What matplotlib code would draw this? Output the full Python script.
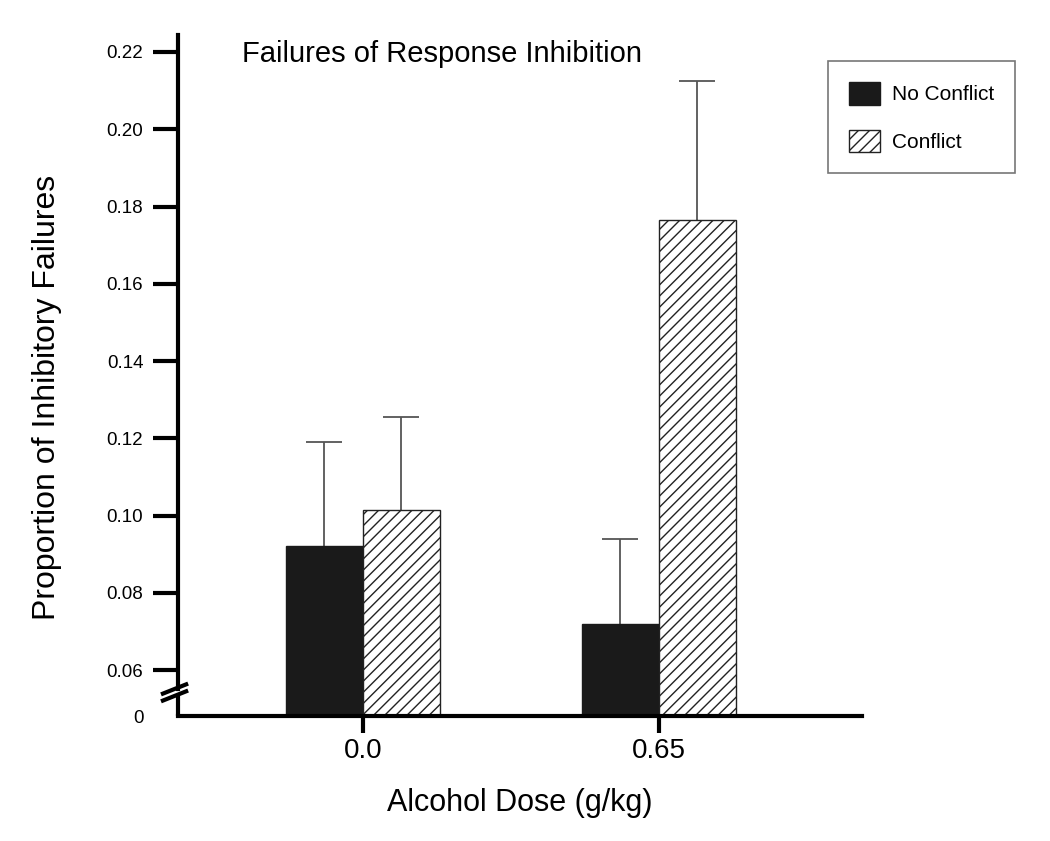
import matplotlib.pyplot as plt
import numpy as np

plt.rcParams['font.family'] = ['Liberation Sans', 'DejaVu Sans']
plt.rcParams['hatch.linewidth'] = 1.0

doses = ['0.0', '0.65']
no_conflict = [0.092, 0.072]
no_conflict_err = [0.027, 0.022]
conflict = [0.1015, 0.1765]
conflict_err = [0.024, 0.036]

y_ticks = [0.06, 0.08, 0.10, 0.12, 0.14, 0.16, 0.18, 0.20, 0.22]
floor = 0.0481  # where "0" sits below the axis break

fig = plt.figure(figsize=(10.5, 8.41), dpi=100)
ax = fig.add_axes([0.1695, 0.1486, 0.6514, 0.8098])

x = np.arange(len(doses))
w = 0.26
ax.bar(x - w / 2, np.array(no_conflict) - floor, w, bottom=floor,
       color='#1a1a1a', edgecolor='#1a1a1a', label='No Conflict', zorder=2)
ax.bar(x + w / 2, np.array(conflict) - floor, w, bottom=floor,
       color='white', edgecolor='#222222', linewidth=1.0, hatch='///',
       label='Conflict', zorder=2)
for xs, ys, es in [(x - w / 2, no_conflict, no_conflict_err),
                   (x + w / 2, conflict, conflict_err)]:
    eb = ax.errorbar(xs, ys, yerr=[np.zeros(2), es], fmt='none',
                     ecolor='#555555', elinewidth=1.3, capsize=13,
                     capthick=1.3, zorder=1)
    eb[1][0].set_visible(False)  # only the upper cap

ax.set_xlim(-0.625, 1.686)
ax.set_ylim(floor, 0.2244)

ax.set_yticks([floor] + y_ticks)
ax.set_yticklabels(['0'] + ['%.2f' % v for v in y_ticks], fontsize=13.5)
ax.yaxis.get_major_ticks()[0].tick1line.set_visible(False)
ax.tick_params(axis='y', direction='out', length=18, width=3, pad=7)
ax.set_xticks(x)
ax.set_xticklabels(doses, fontsize=20)
ax.tick_params(axis='x', direction='out', length=12, width=3, pad=4)

for s in ['top', 'right']:
    ax.spines[s].set_visible(False)
ax.spines['bottom'].set_linewidth(3)
ax.spines['left'].set_linewidth(3)
ax.spines['left'].set_bounds(0.0552, 0.2244)

# lower piece of the broken axis and the break marks
trans = ax.get_yaxis_transform()
ax.plot([0, 0], [floor, 0.0532], color='black', lw=3, transform=trans,
        clip_on=False, solid_capstyle='butt')
for yb in [0.0533, 0.0551]:
    ax.plot([-0.022, 0.012], [yb - 0.0012, yb + 0.0012], color='black',
            lw=3, transform=trans, clip_on=False)

ax.set_xlabel('Alcohol Dose (g/kg)', fontsize=22, labelpad=17)
ax.set_ylabel('Proportion of Inhibitory Failures', fontsize=23)
ax.yaxis.set_label_coords(-0.17, 0.468)
ax.text(0.093, 0.993, 'Failures of Response Inhibition', transform=ax.transAxes,
        fontsize=21, va='top')

leg = ax.legend(loc='upper left', bbox_to_anchor=(828 / 1050, 1 - 61 / 841),
                bbox_transform=fig.transFigure, frameon=True, fancybox=False,
                edgecolor='#555555', fontsize=15, handlelength=1.5,
                handleheight=1.3, handletextpad=0.57, labelspacing=1.2,
                borderpad=1.0, borderaxespad=0)
leg.get_frame().set_linewidth(1.2)

fig.savefig('out.png', dpi=100)
